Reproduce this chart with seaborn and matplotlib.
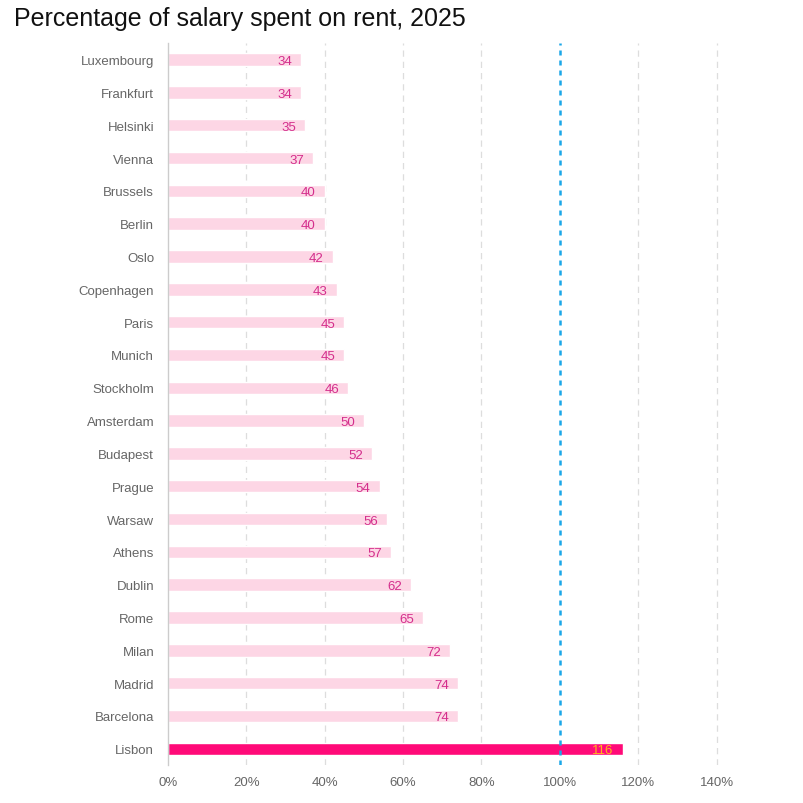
import numpy as np
import pandas as pd
import seaborn as sns
import matplotlib.pyplot as plt

cities = ['Luxembourg', 'Frankfurt', 'Helsinki', 'Vienna', 'Brussels', 'Berlin', 'Oslo',
          'Copenhagen', 'Paris', 'Munich', 'Stockholm', 'Amsterdam', 'Budapest', 'Prague',
          'Warsaw', 'Athens', 'Dublin', 'Rome', 'Milan', 'Madrid', 'Barcelona', 'Lisbon']
pct = [34, 34, 35, 37, 40, 40, 42, 43, 45, 45, 46, 50, 52, 54, 56, 57, 62, 65, 72, 74, 74, 116]
highlight = 'Lisbon'
xticks = [0, 20, 40, 60, 80, 100, 120, 140]

df = pd.DataFrame({'city': cities, 'pct': pct})

sns.set_style('white')
plt.rcParams['font.family'] = ['Liberation Sans', 'DejaVu Sans']

fig = plt.figure(figsize=(8.04, 8.04), dpi=100)
ax = fig.add_axes([0.209, 0.047, 0.731, 0.898])

pal = {c: ('#FF0A78' if c == highlight else '#FDD6E5') for c in cities}
sns.barplot(data=df, x='pct', y='city', hue='city', palette=pal, dodge=False,
            legend=False, width=0.38, saturation=1, ax=ax, zorder=2)

# gridlines
for t in xticks[1:]:
    if t == 100:
        continue
    ax.axvline(t, color='#DDDDDD', lw=0.9, ls=(0, (5, 4)), zorder=0)
ax.axvline(100, color='#1AA7E8', lw=1.8, ls=(0, (2, 2)), zorder=3)

# value labels
for i, (c, v) in enumerate(zip(cities, pct)):
    col = '#FFB319' if c == highlight else '#D42E8C'
    ax.text(v - 2.3, i, str(v), ha='right', va='center_baseline', fontsize=9.5,
            color=col, zorder=4)

ax.set_xlim(0, 150)
ax.set_ylim(len(cities) - 0.5, -0.5)
ax.set_xticks(xticks)
ax.set_xticklabels([f'{t}%' for t in xticks])
ax.set_xlabel('')
ax.set_ylabel('')
ax.tick_params(axis='y', length=0, labelsize=9.5, labelcolor='#666666', pad=10)
ax.tick_params(axis='x', length=0, labelsize=9.5, labelcolor='#666666', pad=8)
for s in ['top', 'right', 'bottom']:
    ax.spines[s].set_visible(False)
ax.spines['left'].set_color('#CCCCCC')
ax.spines['left'].set_linewidth(1)

fig.text(0.017, 0.976, 'Percentage of salary spent on rent, 2025', fontsize=18,
         color='#111111', ha='left', va='center')

fig.savefig('out.png', dpi=100)
